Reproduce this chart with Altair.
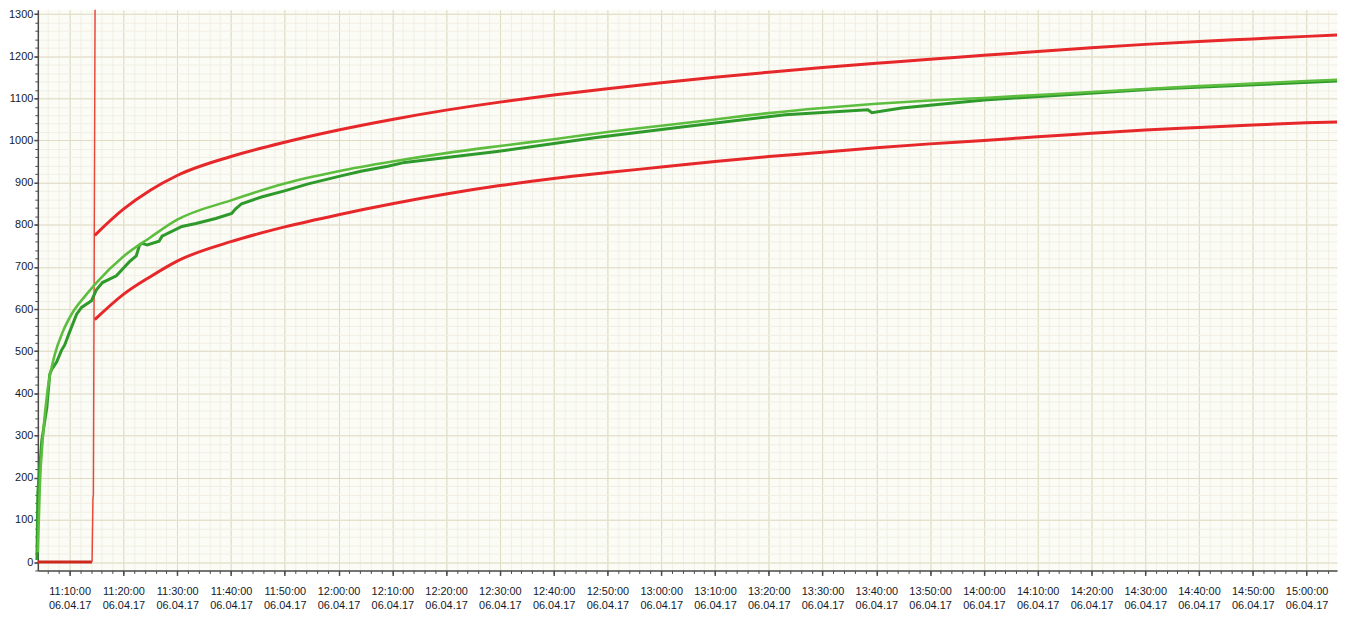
import altair as alt
import pandas as pd

DAY = "2017-04-06T"

# ---- series (time of day, value) ----
red_base_t = ["11:04:05", "11:14:10"]
red_base_v = [0, 0]

red_jump_t = ["11:14:10", "11:14:20", "11:14:25", "11:14:45"]
red_jump_v = [0, 150, 160, 1400]

upper_red_t = ["11:14:40", "11:20:00", "11:25:00", "11:30:00", "11:40:00", "11:50:00",
               "12:00:00", "12:10:00", "12:20:00", "12:30:00", "12:40:00", "12:50:00",
               "13:00:00", "13:10:00", "13:20:00", "13:30:00", "13:40:00", "13:50:00",
               "14:00:00", "14:10:00", "14:20:00", "14:30:00", "14:40:00", "14:50:00",
               "15:00:00", "15:05:40"]
upper_red_v = [775, 837, 882, 917, 962, 996,
               1025, 1050, 1072, 1091, 1108, 1123,
               1137, 1150, 1162, 1173, 1183, 1193,
               1202, 1211, 1220, 1228, 1235, 1241,
               1247, 1250]

lower_red_t = ["11:14:40", "11:20:00", "11:25:00", "11:30:00", "11:40:00", "11:50:00",
               "12:00:00", "12:10:00", "12:20:00", "12:30:00", "12:40:00", "12:50:00",
               "13:00:00", "13:10:00", "13:20:00", "13:30:00", "13:40:00", "13:50:00",
               "14:00:00", "14:10:00", "14:20:00", "14:30:00", "14:40:00", "14:50:00",
               "15:00:00", "15:05:40"]
lower_red_v = [575, 635, 677, 714, 760, 795,
               824, 850, 873, 893, 910, 924,
               937, 950, 962, 972, 983, 992,
               1000, 1009, 1017, 1025, 1031, 1037,
               1042, 1044]

green_smooth_t = ["11:04:05", "11:04:27", "11:05:01", "11:05:56", "11:07:14", "11:08:43",
                  "11:10:33", "11:13:08", "11:15:00", "11:20:00", "11:25:00", "11:30:00",
                  "11:40:00", "11:50:00", "12:00:00", "12:10:00", "12:20:00", "12:30:00",
                  "12:40:00", "12:50:00", "13:00:00", "13:10:00", "13:20:00", "13:30:00",
                  "13:40:00", "13:50:00", "14:00:00", "14:10:00", "14:20:00", "14:30:00",
                  "14:40:00", "14:50:00", "15:00:00", "15:05:40"]
green_smooth_v = [23, 178, 295, 412, 492, 546,
                  592, 635, 663, 725, 770, 812,
                  858, 898, 927, 950, 970, 987,
                  1003, 1020, 1035, 1050, 1065, 1077,
                  1087, 1095, 1101, 1108, 1115, 1122,
                  1129, 1135, 1141, 1144]

green_meas_t = ["11:03:55", "11:04:05", "11:04:49", "11:05:23", "11:05:45", "11:06:18",
                "11:06:40", "11:07:36", "11:08:31", "11:09:05", "11:10:00", "11:11:18",
                "11:12:13", "11:14:04", "11:14:59", "11:16:06", "11:18:41", "11:21:05",
                "11:22:23", "11:23:00", "11:23:30", "11:24:25", "11:26:38", "11:27:11",
                "11:30:53", "11:33:29", "11:37:10", "11:40:08", "11:40:52", "11:41:59",
                "11:45:40", "11:50:07", "11:54:22", "12:00:28", "12:04:10", "12:09:09",
                "12:12:17", "12:29:29", "12:47:58", "13:04:36", "13:23:05", "13:38:26",
                "13:39:10", "13:44:43", "14:00:04", "14:32:00", "15:05:40"]
green_meas_v = [5, 164, 288, 335, 365, 445,
                457, 475, 503, 515, 546, 588,
                604, 620, 646, 663, 679, 712,
                726, 752, 756, 752, 761, 773,
                796, 803, 815, 827, 838, 850,
                866, 881, 897, 916, 927, 939,
                948, 974, 1007, 1033, 1061, 1073,
                1066, 1077, 1096, 1122, 1141]

# tick positions: every 10 min (labelled) and every 2 min (minor), minutes after 11:00
x_major_min = list(range(10, 241, 10))
x_minor_min = list(range(6, 246, 2))
y_major = list(range(0, 1301, 100))
y_minor = list(range(-20, 1311, 20))


def frame(times, values):
    return pd.DataFrame({"t": [DAY + s for s in times], "v": values})


def dt(minutes_after_11):
    h = 11 + minutes_after_11 // 60
    m = minutes_after_11 % 60
    return alt.DateTime(year=2017, month=4, date=6, hours=h, minutes=m)


FONT = "Liberation Sans"
AX = "#4a4a4a"
LBL = "#141a2a"
GRID_MAJOR = "#dfdbc3"
GRID_MINOR = "#f1efe4"

xs = alt.Scale(domain=[alt.DateTime(year=2017, month=4, date=6, hours=11, minutes=4, seconds=5),
                       alt.DateTime(year=2017, month=4, date=6, hours=15, minutes=5, seconds=40)],
               nice=False)
ys = alt.Scale(domain=[-20, 1310], nice=False, zero=False)

x_major = alt.Axis(orient="bottom", title=None, values=[dt(m) for m in x_major_min],
                   labelExpr="[timeFormat(datum.value, '%H:%M:%S'), timeFormat(datum.value, '%d.%m.%y')]",
                   grid=True, gridColor=GRID_MAJOR, gridWidth=1, domainColor=AX, domainWidth=1.5,
                   tickColor=AX, tickSize=5, tickWidth=1.5, labelFont=FONT, labelFontSize=11,
                   labelColor=LBL, labelPadding=10, labelLineHeight=14,
                   labelOverlap=False, labelFlush=False)
x_minor = alt.Axis(orient="bottom", title=None, values=[dt(m) for m in x_minor_min],
                   labels=False, grid=True, gridColor=GRID_MINOR, gridWidth=1, domain=False,
                   tickColor=AX, tickSize=3, tickWidth=1)
y_major_ax = alt.Axis(orient="left", title=None, values=y_major, format="d", grid=True,
                      gridColor=GRID_MAJOR, gridWidth=1, domainColor=AX, domainWidth=1.5,
                      tickColor=AX, tickSize=4, tickWidth=1.5, labelFont=FONT, labelFontSize=11,
                      labelColor=LBL, labelPadding=1, labelOverlap=False, labelFlush=False)
y_minor_ax = alt.Axis(orient="left", title=None, values=y_minor, labels=False, grid=True,
                      gridColor=GRID_MINOR, gridWidth=1, domain=False, tickColor=AX, tickSize=3,
                      tickWidth=1)


def line(df, color, width, xa=None, ya=None, interp="linear", clip=False):
    return alt.Chart(df).mark_line(color=color, strokeWidth=width, interpolate=interp,
                                   clip=clip).encode(
        x=alt.X("t:T", scale=xs, axis=xa),
        y=alt.Y("v:Q", scale=ys, axis=ya),
    )


layers = [
    line(frame(red_base_t, red_base_v), "#cc2a1e", 3, x_minor, y_minor_ax),
    line(frame(red_jump_t, red_jump_v), "#e8473a", 1.5, x_major, y_major_ax, clip=True),
    line(frame(upper_red_t, upper_red_v), "#e6282a", 3, interp="monotone"),
    line(frame(lower_red_t, lower_red_v), "#e6282a", 3, interp="monotone"),
    line(frame(green_meas_t, green_meas_v), "#2f9a2c", 3),
    line(frame(green_smooth_t, green_smooth_v), "#5cbd3e", 2.6, interp="monotone"),
]

chart = (
    alt.layer(*layers)
    .resolve_axis(x="independent", y="independent")
    .properties(width=1307, height=564,
                autosize=alt.AutoSizeParams(type="none"),
                padding={"left": 30, "top": 0, "right": 6, "bottom": 47},
                background="#ffffff")
    .configure_view(stroke=None, fill="#fcfcf6")
)

chart.save("out.html", embed_options={"renderer": "svg", "actions": False})
